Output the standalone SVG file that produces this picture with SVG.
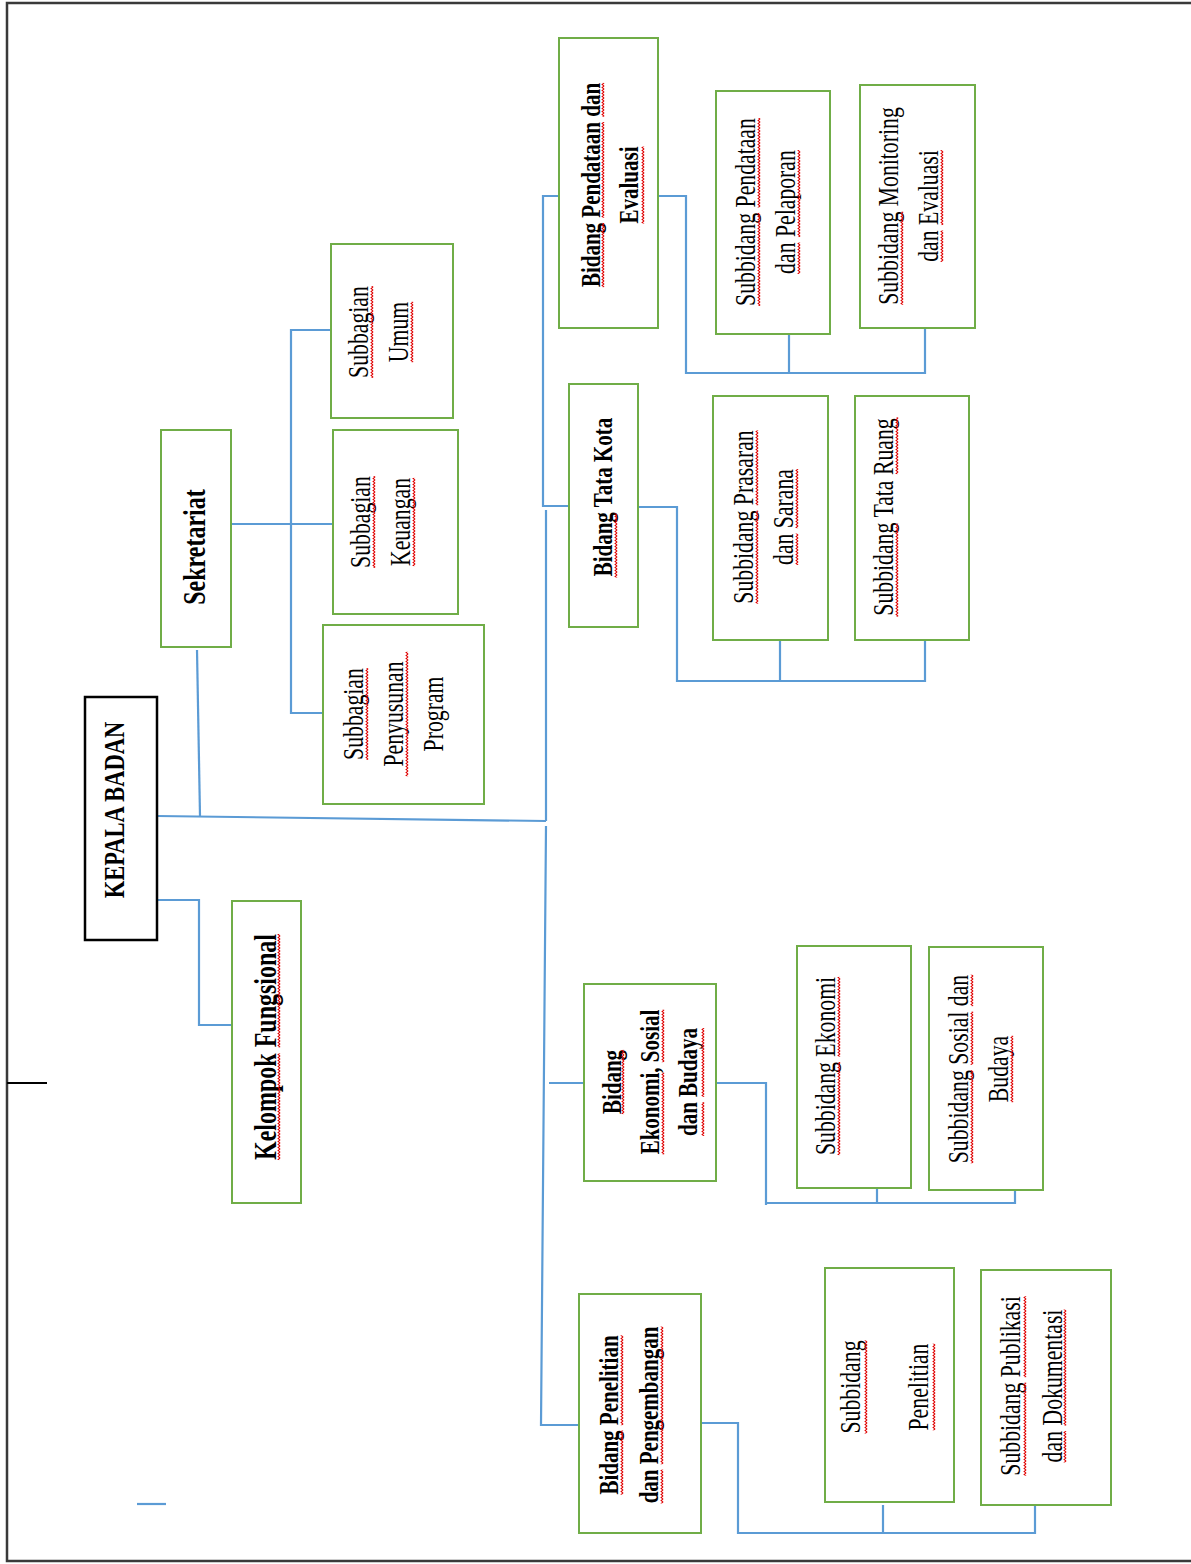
<svg xmlns="http://www.w3.org/2000/svg" width="1191" height="1564" viewBox="0 0 1191 1564">
<style>
.box{fill:#fff;stroke:#70ad47;stroke-width:2}
.kbox{fill:#fff;stroke:#000;stroke-width:2.5}
.c{fill:none;stroke:#5b9bd5;stroke-width:2.2}
text{font-family:"Liberation Serif","Times New Roman",serif;fill:#000;text-anchor:middle}
.b{font-weight:bold}
.r{font-size:29px}
.w{fill:url(#wave)}
</style>
<defs>
<pattern id="wave" width="4" height="4" patternUnits="userSpaceOnUse">
<path d="M0,3 L2,1 L4,3" fill="none" stroke="#e00000" stroke-width="1.1"/>
</pattern>
</defs>
<rect width="1191" height="1564" fill="#fff"/>
<g id="frame" fill="none" stroke="#3a3a3a" stroke-width="2.5">
<path d="M1191,3 H7 V1561 H1191"/>
<path d="M7,1083 H47" stroke="#000" stroke-width="2"/>
</g>
<g id="connectors">
<path class="c" d="M157,816 L546,821"/>
<path class="c" d="M197,650 L200,816"/>
<path class="c" d="M157,900 H199 V1025 H232"/>
<path class="c" d="M231,524 H333"/>
<path class="c" d="M331,330 H291 V713 H323"/>
<path class="c" d="M559,196 H543 V506 H569"/>
<path class="c" d="M546,510 V821"/>
<path class="c" d="M546,826 L541,1425 H579"/>
<path class="c" d="M549,1083 H584"/>
<path class="c" d="M650,196 H686 V373 H925 V328"/>
<path class="c" d="M789,334 V373"/>
<path class="c" d="M638,507 H677 V681 H925 V640"/>
<path class="c" d="M780,640 V681"/>
<path class="c" d="M710,1083 H766 V1205"/>
<path class="c" d="M766,1203 H1015 V1190"/>
<path class="c" d="M877,1188 V1203"/>
<path class="c" d="M701,1423 H738 V1533 H1035 V1505"/>
<path class="c" d="M883,1505 V1533"/>
<path class="c" d="M137,1504 H166"/>
</g>
<g id="kepala-badan">
<rect class="kbox" x="85" y="697" width="72" height="243"/>
<text class="b" font-size="30" transform="translate(114,810) rotate(-90) scale(0.75,1)"><tspan x="0" y="10">KEPALA BADAN</tspan></text>
</g>
<g id="kelompok-fungsional">
<rect class="box" x="232" y="901" width="69" height="302"/>
<text class="b" font-size="32" transform="translate(265,1047) rotate(-90) scale(0.75,1)"><tspan x="0" y="11">Kelompok Fungsional</tspan></text>
<g transform="translate(265,1047) rotate(-90) scale(0.75,1)"><rect class="w" x="-150.7" y="12" width="142.2" height="4"/><rect class="w" x="-0.5" y="12" width="151.2" height="4"/></g>
</g>
<g id="sekretariat">
<rect class="box" x="161" y="430" width="70" height="217"/>
<text class="b" font-size="32" transform="translate(194,547) rotate(-90) scale(0.75,1)"><tspan x="0" y="11">Sekretariat</tspan></text>
</g>
<g id="subbagian-umum">
<rect class="box" x="331" y="244" width="122" height="174"/>
<text class="r" transform="translate(378,332) rotate(-90) scale(0.75,1)"><tspan x="0" y="-10">Subbagian</tspan><tspan x="0" y="30">Umum</tspan></text>
<g transform="translate(378,332) rotate(-90) scale(0.75,1)"><rect class="w" x="-61.2" y="-8" width="122.4" height="4"/><rect class="w" x="-40.3" y="32" width="80.6" height="4"/></g>
</g>
<g id="subbagian-keuangan">
<rect class="box" x="333" y="430" width="125" height="184"/>
<text class="r" transform="translate(380,522) rotate(-90) scale(0.75,1)"><tspan x="0" y="-10">Subbagian</tspan><tspan x="0" y="30">Keuangan</tspan></text>
<g transform="translate(380,522) rotate(-90) scale(0.75,1)"><rect class="w" x="-61.2" y="-8" width="122.4" height="4"/><rect class="w" x="-58.8" y="32" width="117.6" height="4"/></g>
</g>
<g id="subbagian-penyusunan-program">
<rect class="box" x="323" y="625" width="161" height="179"/>
<text class="r" transform="translate(393,714) rotate(-90) scale(0.75,1)"><tspan x="0" y="-30">Subbagian</tspan><tspan x="0" y="10">Penyusunan</tspan><tspan x="0" y="50">Program</tspan></text>
<g transform="translate(393,714) rotate(-90) scale(0.75,1)"><rect class="w" x="-61.2" y="-28" width="122.4" height="4"/><rect class="w" x="-83" y="12" width="165.9" height="4"/></g>
</g>
<g id="bidang-pendataan-evaluasi">
<rect class="box" x="559" y="38" width="99" height="290"/>
<text class="b" font-size="28" transform="translate(609,185) rotate(-90) scale(0.75,1)"><tspan x="0" y="-9">Bidang Pendataan dan</tspan><tspan x="0" y="29">Evaluasi</tspan></text>
<g transform="translate(609,185) rotate(-90) scale(0.75,1)"><rect class="w" x="-136.2" y="-8" width="85.6" height="4"/><rect class="w" x="-43.6" y="-8" width="127.6" height="4"/><rect class="w" x="91" y="-8" width="45.1" height="4"/><rect class="w" x="-51.4" y="32" width="102.7" height="4"/></g>
</g>
<g id="subbidang-pendataan-pelaporan">
<rect class="box" x="716" y="91" width="114" height="243"/>
<text class="r" transform="translate(765,212) rotate(-90) scale(0.75,1)"><tspan x="0" y="-10">Subbidang Pendataan</tspan><tspan x="0" y="30">dan Pelaporan</tspan></text>
<g transform="translate(765,212) rotate(-90) scale(0.75,1)"><rect class="w" x="-125.3" y="-8" width="124.1" height="4"/><rect class="w" x="6.1" y="-8" width="119.2" height="4"/><rect class="w" x="-82.6" y="32" width="41.9" height="4"/><rect class="w" x="-33.4" y="32" width="116" height="4"/></g>
</g>
<g id="subbidang-monitoring-evaluasi">
<rect class="box" x="860" y="85" width="115" height="243"/>
<text class="r" transform="translate(908,206) rotate(-90) scale(0.75,1)"><tspan x="0" y="-10">Subbidang Monitoring</tspan><tspan x="0" y="30">dan Evaluasi</tspan></text>
<g transform="translate(908,206) rotate(-90) scale(0.75,1)"><rect class="w" x="-131.7" y="-8" width="124.1" height="4"/><rect class="w" x="-74.5" y="32" width="41.9" height="4"/><rect class="w" x="-25.4" y="32" width="99.9" height="4"/></g>
</g>
<g id="bidang-tata-kota">
<rect class="box" x="569" y="384" width="69" height="243"/>
<text class="b" font-size="28" transform="translate(602,497) rotate(-90) scale(0.75,1)"><tspan x="0" y="10">Bidang Tata Kota</tspan></text>
<g transform="translate(602,497) rotate(-90) scale(0.75,1)"><rect class="w" x="-107.4" y="12" width="85.6" height="4"/></g>
</g>
<g id="subbidang-prasaran-sarana">
<rect class="box" x="713" y="396" width="115" height="244"/>
<text class="r" transform="translate(763,517) rotate(-90) scale(0.75,1)"><tspan x="0" y="-10">Subbidang Prasaran</tspan><tspan x="0" y="30">dan Sarana</tspan></text>
<g transform="translate(763,517) rotate(-90) scale(0.75,1)"><rect class="w" x="-115.6" y="-8" width="124.1" height="4"/><rect class="w" x="15.7" y="-8" width="99.8" height="4"/><rect class="w" x="-64" y="32" width="41.9" height="4"/><rect class="w" x="-14.9" y="32" width="78.9" height="4"/></g>
</g>
<g id="subbidang-tata-ruang">
<rect class="box" x="855" y="396" width="114" height="244"/>
<text class="r" transform="translate(883,517) rotate(-90) scale(0.75,1)"><tspan x="0" y="10">Subbidang Tata Ruang</tspan></text>
<g transform="translate(883,517) rotate(-90) scale(0.75,1)"><rect class="w" x="-132.9" y="12" width="124.1" height="4"/><rect class="w" x="57.2" y="12" width="75.7" height="4"/></g>
</g>
<g id="bidang-ekonomi-sosial-budaya">
<rect class="box" x="584" y="984" width="132" height="197"/>
<text class="b" font-size="28" transform="translate(649,1082) rotate(-90) scale(0.75,1)"><tspan x="0" y="-28">Bidang</tspan><tspan x="0" y="10">Ekonomi, Sosial</tspan><tspan x="0" y="48">dan Budaya</tspan></text>
<g transform="translate(649,1082) rotate(-90) scale(0.75,1)"><rect class="w" x="-42.8" y="-28" width="85.6" height="4"/><rect class="w" x="-96.5" y="12" width="108.9" height="4"/><rect class="w" x="26.4" y="12" width="70" height="4"/><rect class="w" x="-72" y="52" width="45.1" height="4"/><rect class="w" x="-19.8" y="52" width="91.8" height="4"/></g>
</g>
<g id="subbidang-ekonomi">
<rect class="box" x="797" y="946" width="114" height="242"/>
<text class="r" transform="translate(825,1066) rotate(-90) scale(0.75,1)"><tspan x="0" y="10">Subbidang Ekonomi</tspan></text>
<g transform="translate(825,1066) rotate(-90) scale(0.75,1)"><rect class="w" x="-118.8" y="12" width="124.1" height="4"/><rect class="w" x="12.5" y="12" width="106.3" height="4"/></g>
</g>
<g id="subbidang-sosial-budaya">
<rect class="box" x="929" y="947" width="114" height="243"/>
<text class="r" transform="translate(978,1069) rotate(-90) scale(0.75,1)"><tspan x="0" y="-10">Subbidang Sosial dan</tspan><tspan x="0" y="30">Budaya</tspan></text>
<g transform="translate(978,1069) rotate(-90) scale(0.75,1)"><rect class="w" x="-125.7" y="-8" width="124.1" height="4"/><rect class="w" x="5.6" y="-8" width="70.9" height="4"/><rect class="w" x="83.8" y="-8" width="41.9" height="4"/><rect class="w" x="-44.3" y="32" width="88.6" height="4"/></g>
</g>
<g id="bidang-penelitian-pengembangan">
<rect class="box" x="579" y="1294" width="122" height="239"/>
<text class="b" font-size="28" transform="translate(628,1415) rotate(-90) scale(0.75,1)"><tspan x="0" y="-10">Bidang Penelitian</tspan><tspan x="0" y="30">dan Pengembangan</tspan></text>
<g transform="translate(628,1415) rotate(-90) scale(0.75,1)"><rect class="w" x="-106.2" y="-8" width="85.6" height="4"/><rect class="w" x="-13.6" y="-8" width="119.8" height="4"/><rect class="w" x="-117.9" y="32" width="45.1" height="4"/><rect class="w" x="-65.7" y="32" width="183.6" height="4"/></g>
</g>
<g id="subbidang-penelitian">
<rect class="box" x="825" y="1268" width="129" height="234"/>
<text class="r" transform="translate(884,1387) rotate(-90) scale(0.75,1)"><tspan x="0" y="-24">Subbidang</tspan><tspan x="0" y="44">Penelitian</tspan></text>
<g transform="translate(884,1387) rotate(-90) scale(0.75,1)"><rect class="w" x="-62" y="-20" width="124.1" height="4"/><rect class="w" x="-57.7" y="48" width="115.4" height="4"/></g>
</g>
<g id="subbidang-publikasi-dokumentasi">
<rect class="box" x="981" y="1270" width="130" height="235"/>
<text class="r" transform="translate(1031,1386) rotate(-90) scale(0.75,1)"><tspan x="0" y="-11">Subbidang Publikasi</tspan><tspan x="0" y="31">dan Dokumentasi</tspan></text>
<g transform="translate(1031,1386) rotate(-90) scale(0.75,1)"><rect class="w" x="-119.6" y="-8" width="124.1" height="4"/><rect class="w" x="11.7" y="-8" width="108" height="4"/><rect class="w" x="-101.9" y="32" width="41.9" height="4"/><rect class="w" x="-52.8" y="32" width="154.7" height="4"/></g>
</g>
</svg>
